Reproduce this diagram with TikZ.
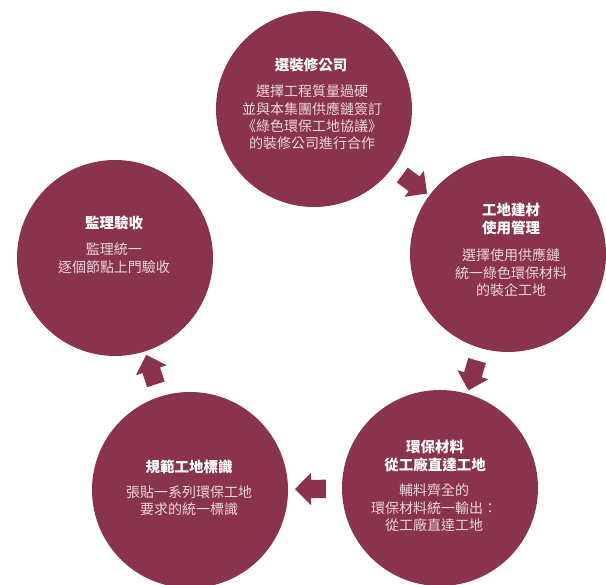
\documentclass[tikz,border=0pt]{standalone}
\usepackage{fontspec}
\newfontfamily\cjk{Noto Sans CJK TC}
\usetikzlibrary{shapes.arrows}
\definecolor{wine}{RGB}{137,51,76}
\definecolor{bodytxt}{RGB}{236,214,221}
\begin{document}
\begin{tikzpicture}[x=1pt,y=-1pt,
  stage/.style={circle, fill=wine, minimum size=196pt, inner sep=0pt},
  ttl/.style={text=white, align=center, font=\cjk\bfseries\fontsize{14.5}{18}\selectfont, inner sep=0pt},
  bdy/.style={text=bodytxt, align=center, font=\cjk\fontsize{14}{17.4}\selectfont, inner sep=0pt},
  flow/.style={single arrow, fill=wine, minimum height=31pt, inner xsep=0pt, inner ysep=9pt, single arrow head extend=7pt, midway, sloped, allow upside down}]
\useasboundingbox (0,0) rectangle (606,585);

\node[stage] (c1) at (314,109) {};
\node[stage] (c2) at (508,254) {};
\node[stage] (c3) at (440,488) {};
\node[stage] (c4) at (190,490) {};
\node[stage] (c5) at (115,258) {};

\node[ttl] (t1) at (311,65) {選裝修公司};
\node[bdy] (b1) at (312,117.5) {選擇工程質量過硬\\並與本集團供應鏈簽訂\\《綠色環保工地協議》\\的裝修公司進行合作};

\node[ttl] (t2) at (511,219) {工地建材\\使用管理};
\node[bdy] (b2) at (511,272.7) {選擇使用供應鏈\\統一綠色環保材料\\的裝企工地};

\node[ttl] (t3) at (435,456) {環保材料\\從工廠直達工地};
\node[bdy] (b3) at (434,507.7) {輔料齊全的\\環保材料統一輸出：\\從工廠直達工地};

\node[ttl] (t4) at (189,467) {規範工地標識};
\node[bdy] (b4) at (189,501) {張貼一系列環保工地\\要求的統一標識};

\node[ttl] (t5) at (114,223) {監理驗收};
\node[bdy] (b5) at (114,258) {監理統一\\逐個節點上門驗收};

\path (c1) -- (c2) node[flow] (a1) {};
\path (c2) -- (c3) node[flow] (a2) {};
\path (c3) -- (c4) node[flow] (a3) {};
\path (c4) -- (c5) node[flow] (a4) {};
\end{tikzpicture}
\end{document}
